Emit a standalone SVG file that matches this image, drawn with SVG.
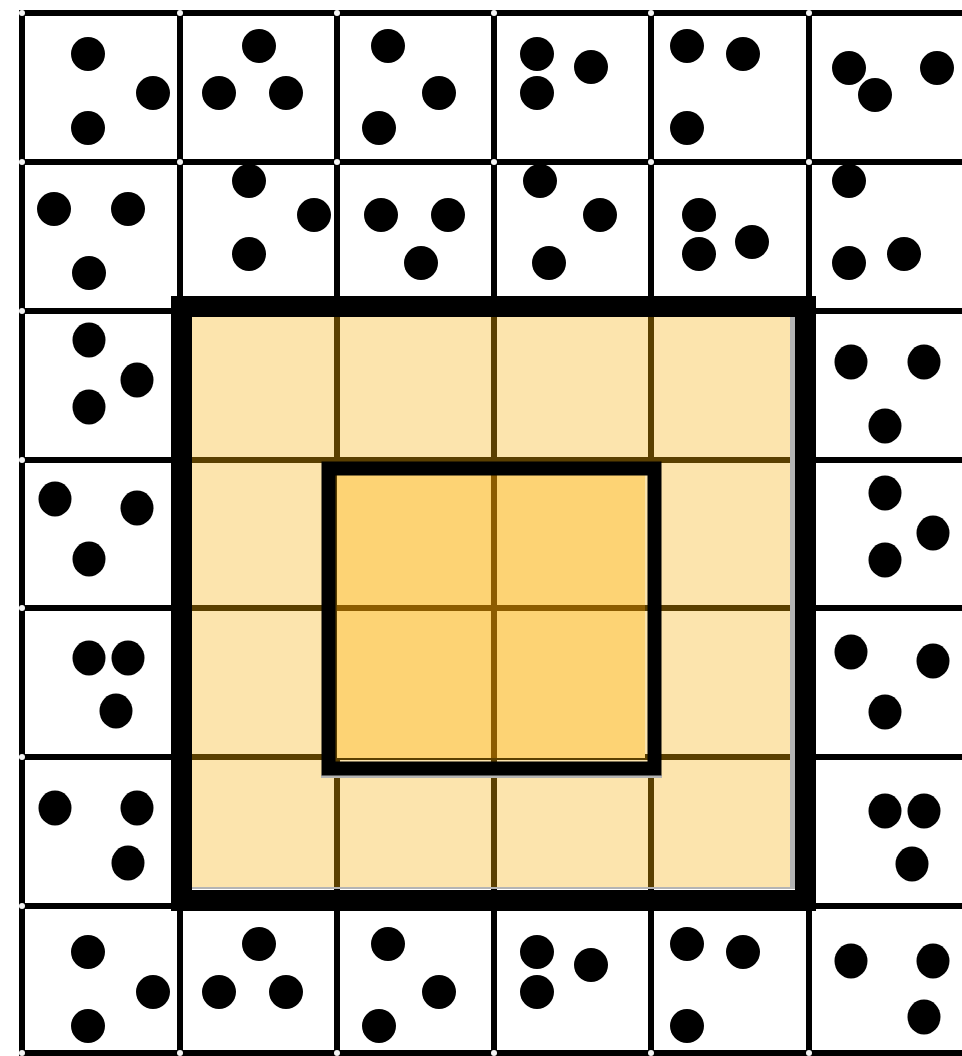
<svg xmlns="http://www.w3.org/2000/svg" width="962" height="1056" viewBox="0 0 962 1056">
<defs>
<style>
.bg{fill:#ffffff}
.gl{stroke:#000;stroke-width:6;fill:none}
.jn{fill:#f4f4f4}
.hl{fill:#fce4ad}
.hlc{fill:#fdd374}
.bl{stroke:#5a3f00;stroke-width:6;fill:none}
.bl2{stroke:#8c5c00;stroke-width:6;fill:none}
.sh{fill:#b4b4b4}
.frame{fill:none;stroke:#000}
.dot{fill:#000}
</style>
</defs>
<rect class="bg" x="0" y="0" width="962" height="1056"/>

<g id="grid">
<path class="gl" d="M22,10V1056M180,10V1056M337,10V1056M494,10V1056M651,10V1056M809,10V1056"/>
<path class="gl" d="M19,13H962M19,162H962M19,311H962M19,460H962M19,608H962M19,757H962M19,906H962M19,1053H962"/>
<g class="jn">
<circle cx="22" cy="13" r="3"/><circle cx="180" cy="13" r="3"/><circle cx="337" cy="13" r="3"/><circle cx="494" cy="13" r="3"/><circle cx="651" cy="13" r="3"/><circle cx="809" cy="13" r="3"/>
<circle cx="22" cy="162" r="3"/><circle cx="180" cy="162" r="3"/><circle cx="337" cy="162" r="3"/><circle cx="494" cy="162" r="3"/><circle cx="651" cy="162" r="3"/><circle cx="809" cy="162" r="3"/>
<circle cx="22" cy="311" r="3"/><circle cx="22" cy="460" r="3"/><circle cx="22" cy="608" r="3"/><circle cx="22" cy="757" r="3"/><circle cx="22" cy="906" r="3"/><circle cx="22" cy="1053" r="3"/>
<circle cx="180" cy="1053" r="3"/><circle cx="337" cy="1053" r="3"/><circle cx="494" cy="1053" r="3"/><circle cx="651" cy="1053" r="3"/><circle cx="809" cy="1053" r="3"/>
</g>
</g>

<g id="outer-region">
<rect class="hl" x="192" y="317" width="598" height="570"/>
<rect class="sh" x="790" y="317" width="5" height="572"/>
<rect class="sh" x="192" y="887" width="603" height="2"/>
<path class="bl" d="M337,317V887M494,317V887M651,317V887M192,460H790M192,608H790M192,757H790"/>
</g>

<g id="inner-region">
<rect class="hlc" x="337" y="475" width="308" height="283"/>
<path class="bl2" d="M494,475V758M337,608H645"/>
<rect class="sh" x="321" y="775" width="341" height="3"/>
</g>

<g id="frames">
<rect class="frame" x="181.5" y="306.5" width="624" height="594" stroke-width="21"/>
<rect class="frame" x="328.5" y="468.5" width="326" height="300" stroke-width="14"/>
</g>

<g class="dot">
<g id="c0-0"><circle cx="88" cy="54" r="17"/><circle cx="153" cy="93" r="17"/><circle cx="88" cy="128" r="17"/></g>
<g id="c0-1"><circle cx="259" cy="46" r="17"/><circle cx="219" cy="93" r="17"/><circle cx="286" cy="93" r="17"/></g>
<g id="c0-2"><circle cx="388" cy="46" r="17"/><circle cx="439" cy="93" r="17"/><circle cx="379" cy="128" r="17"/></g>
<g id="c0-3"><circle cx="537" cy="54" r="17"/><circle cx="591" cy="67" r="17"/><circle cx="537" cy="93" r="17"/></g>
<g id="c0-4"><circle cx="687" cy="46" r="17"/><circle cx="743" cy="54" r="17"/><circle cx="687" cy="128" r="17"/></g>
<g id="c0-5"><circle cx="849" cy="68" r="17"/><circle cx="937" cy="68" r="17"/><circle cx="875" cy="95" r="17"/></g>

<g id="c1-0"><circle cx="54" cy="209" r="17"/><circle cx="128" cy="209" r="17"/><circle cx="89" cy="273" r="17"/></g>
<g id="c1-1"><circle cx="249" cy="181" r="17"/><circle cx="314" cy="215" r="17"/><circle cx="249" cy="254" r="17"/></g>
<g id="c1-2"><circle cx="381" cy="215" r="17"/><circle cx="448" cy="215" r="17"/><circle cx="421" cy="263" r="17"/></g>
<g id="c1-3"><circle cx="540" cy="181" r="17"/><circle cx="600" cy="215" r="17"/><circle cx="549" cy="263" r="17"/></g>
<g id="c1-4"><circle cx="699" cy="215" r="17"/><circle cx="752" cy="242" r="17"/><circle cx="699" cy="254" r="17"/></g>
<g id="c1-5"><circle cx="849" cy="181" r="17"/><circle cx="849" cy="263" r="17"/><circle cx="904" cy="254" r="17"/></g>

<g id="c2-0"><ellipse cx="89" cy="340" rx="16.5" ry="17.5"/><ellipse cx="137" cy="380" rx="16.5" ry="17.5"/><ellipse cx="89" cy="407" rx="16.5" ry="17.5"/></g>
<g id="c2-5"><ellipse cx="851" cy="362" rx="16.5" ry="17.5"/><ellipse cx="924" cy="362" rx="16.5" ry="17.5"/><ellipse cx="885" cy="426" rx="16.5" ry="17.5"/></g>

<g id="c3-0"><ellipse cx="55" cy="499" rx="16.5" ry="17.5"/><ellipse cx="137" cy="508" rx="16.5" ry="17.5"/><ellipse cx="89" cy="559" rx="16.5" ry="17.5"/></g>
<g id="c3-5"><ellipse cx="885" cy="493" rx="16.5" ry="17.5"/><ellipse cx="933" cy="533" rx="16.5" ry="17.5"/><ellipse cx="885" cy="560" rx="16.5" ry="17.5"/></g>

<g id="c4-0"><ellipse cx="89" cy="658" rx="16.5" ry="17.5"/><ellipse cx="128" cy="658" rx="16.5" ry="17.5"/><ellipse cx="116" cy="711" rx="16.5" ry="17.5"/></g>
<g id="c4-5"><ellipse cx="851" cy="652" rx="16.5" ry="17.5"/><ellipse cx="933" cy="661" rx="16.5" ry="17.5"/><ellipse cx="885" cy="712" rx="16.5" ry="17.5"/></g>

<g id="c5-0"><ellipse cx="55" cy="808" rx="16.5" ry="17.5"/><ellipse cx="137" cy="808" rx="16.5" ry="17.5"/><ellipse cx="128" cy="863" rx="16.5" ry="17.5"/></g>
<g id="c5-5"><ellipse cx="885" cy="811" rx="16.5" ry="17.5"/><ellipse cx="924" cy="811" rx="16.5" ry="17.5"/><ellipse cx="912" cy="864" rx="16.5" ry="17.5"/></g>

<g id="c6-0"><circle cx="88" cy="952" r="17"/><circle cx="153" cy="992" r="17"/><circle cx="88" cy="1026" r="17"/></g>
<g id="c6-1"><circle cx="259" cy="944" r="17"/><circle cx="219" cy="992" r="17"/><circle cx="286" cy="992" r="17"/></g>
<g id="c6-2"><circle cx="388" cy="944" r="17"/><circle cx="439" cy="992" r="17"/><circle cx="379" cy="1026" r="17"/></g>
<g id="c6-3"><circle cx="537" cy="952" r="17"/><circle cx="591" cy="965" r="17"/><circle cx="537" cy="992" r="17"/></g>
<g id="c6-4"><circle cx="687" cy="944" r="17"/><circle cx="743" cy="952" r="17"/><circle cx="687" cy="1026" r="17"/></g>
<g id="c6-5"><ellipse cx="851" cy="961" rx="16.5" ry="17.5"/><ellipse cx="933" cy="961" rx="16.5" ry="17.5"/><ellipse cx="924" cy="1017" rx="16.5" ry="17.5"/></g>
</g>
</svg>
